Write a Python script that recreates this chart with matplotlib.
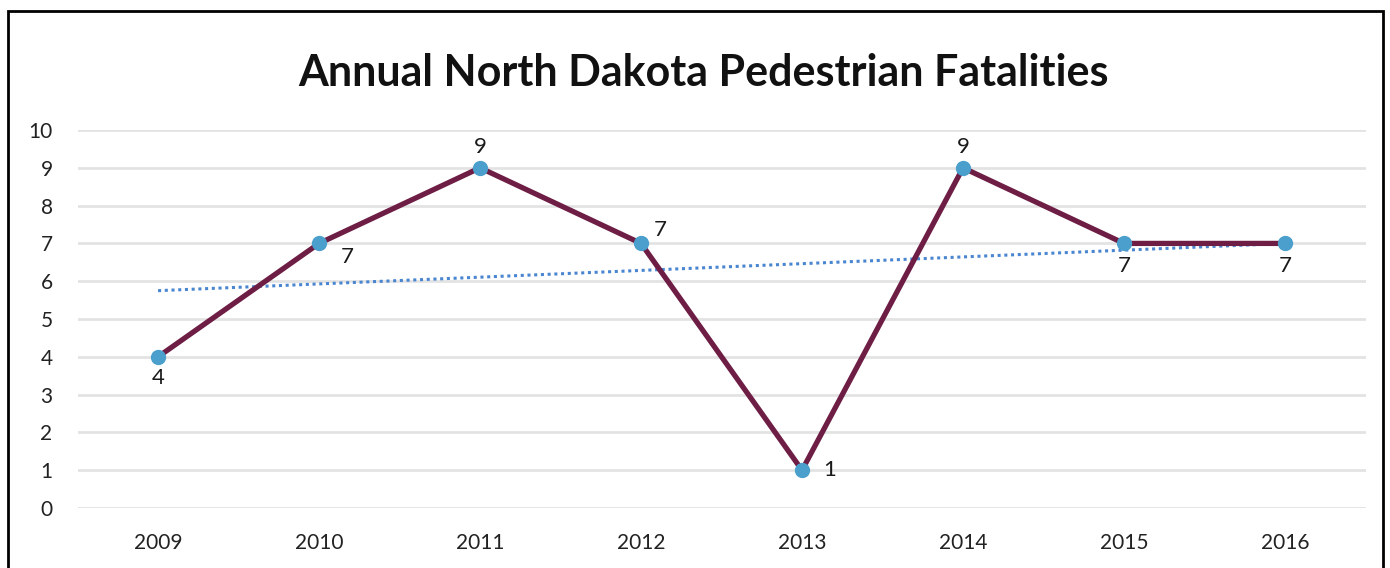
import matplotlib.pyplot as plt
import numpy as np
from matplotlib.patches import Rectangle

years = ["2009", "2010", "2011", "2012", "2013", "2014", "2015", "2016"]
fatalities = [4, 7, 9, 7, 1, 9, 7, 7]
# label offsets (points) for each data label
label_offsets = [(0, -15), (20, -10), (0, 15), (14, 10), (20, 0), (0, 15), (0, -16), (0, -16)]

plt.rcParams['font.family'] = ['Lato', 'DejaVu Sans']

fig = plt.figure(figsize=(13.9, 5.68), dpi=100)
ax = fig.add_axes([0.0558, 0.1056, 0.9266, 0.6655])

x = np.arange(len(years))
# linear trendline
coef = np.polyfit(x, fatalities, 1)
ax.plot(x, np.polyval(coef, x), linestyle=(0, (1, 1.2)), color="#4a86d0", linewidth=2.2, zorder=3)

ax.plot(x, fatalities, color="#6e1e45", linewidth=3.8, marker="o", markersize=10,
        markerfacecolor="#4a9fcc", markeredgecolor="#4a9fcc", zorder=4)

for xi, v, off in zip(x, fatalities, label_offsets):
    ax.annotate(str(v), (xi, v), xytext=off, textcoords="offset points",
                ha="center", va="center", fontsize=16, color="#1a1a1a")

ax.set_xlim(-0.5, len(years) - 0.5)
ax.set_ylim(0, 10)
ax.set_yticks(range(0, 11))
ax.set_xticks(x)
ax.set_xticklabels(years)
ax.yaxis.grid(True, color="#e3e3e3", linewidth=2)
ax.set_axisbelow(True)
for s in ax.spines.values():
    s.set_visible(False)
ax.tick_params(axis="both", length=0, labelsize=15, colors="#222222")
ax.tick_params(axis="y", pad=18)
ax.tick_params(axis="x", pad=18)

fig.text(0.506, 0.872, "Annual North Dakota Pedestrian Fatalities", ha="center", va="center",
         fontsize=31, fontweight="bold", color="#111111")

# outer frame
fig.patches.append(Rectangle((8 / 1390, -0.1), 1375 / 1390, 1 - 11 / 568 + 0.1,
                             transform=fig.transFigure, fill=False, edgecolor="black",
                             linewidth=2))

fig.savefig("out.png", dpi=100)
